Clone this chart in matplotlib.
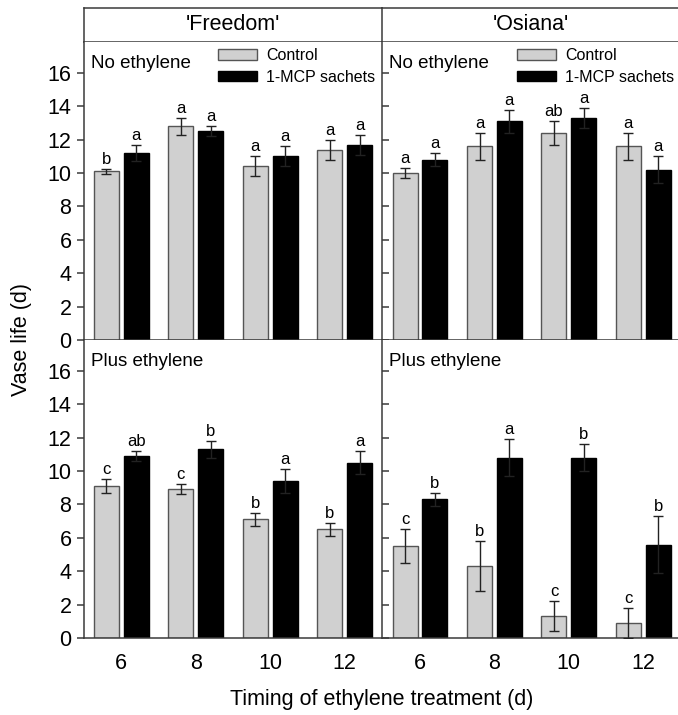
import matplotlib
matplotlib.use("Agg")
import matplotlib.pyplot as plt
from matplotlib.patches import Patch
import numpy as np

plt.rcParams['font.family'] = ['Liberation Sans', 'DejaVu Sans']

timings = ['6', '8', '10', '12']
cultivars = ["'Freedom'", "'Osiana'"]
conditions = ['No ethylene', 'Plus ethylene']
series_names = ['Control', '1-MCP sachets']

# Freedom, no ethylene
fn_ctrl = [10.1, 12.8, 10.4, 11.4]
fn_ctrl_err = [0.15, 0.5, 0.6, 0.6]
fn_mcp = [11.2, 12.5, 11.0, 11.7]
fn_mcp_err = [0.5, 0.3, 0.6, 0.6]
fn_ctrl_let = ['b', 'a', 'a', 'a']
fn_mcp_let = ['a', 'a', 'a', 'a']
# Osiana, no ethylene
on_ctrl = [10.0, 11.6, 12.4, 11.6]
on_ctrl_err = [0.3, 0.8, 0.7, 0.8]
on_mcp = [10.8, 13.1, 13.3, 10.2]
on_mcp_err = [0.4, 0.7, 0.6, 0.8]
on_ctrl_let = ['a', 'a', 'ab', 'a']
on_mcp_let = ['a', 'a', 'a', 'a']
# Freedom, plus ethylene
fp_ctrl = [9.1, 8.9, 7.1, 6.5]
fp_ctrl_err = [0.4, 0.3, 0.4, 0.4]
fp_mcp = [10.9, 11.3, 9.4, 10.5]
fp_mcp_err = [0.3, 0.5, 0.7, 0.7]
fp_ctrl_let = ['c', 'c', 'b', 'b']
fp_mcp_let = ['ab', 'b', 'a', 'a']
# Osiana, plus ethylene
op_ctrl = [5.5, 4.3, 1.3, 0.9]
op_ctrl_err = [1.0, 1.5, 0.9, 0.9]
op_mcp = [8.3, 10.8, 10.8, 5.6]
op_mcp_err = [0.4, 1.1, 0.8, 1.7]
op_ctrl_let = ['c', 'b', 'c', 'c']
op_mcp_let = ['b', 'a', 'b', 'b']

panels = [
    [(fn_ctrl, fn_ctrl_err, fn_ctrl_let, fn_mcp, fn_mcp_err, fn_mcp_let),
     (on_ctrl, on_ctrl_err, on_ctrl_let, on_mcp, on_mcp_err, on_mcp_let)],
    [(fp_ctrl, fp_ctrl_err, fp_ctrl_let, fp_mcp, fp_mcp_err, fp_mcp_let),
     (op_ctrl, op_ctrl_err, op_ctrl_let, op_mcp, op_mcp_err, op_mcp_let)],
]

W, H = 678, 715
fig = plt.figure(figsize=(W / 100, H / 100), dpi=100)

LC = '#3a3a3a'
LW = 1.1
GRAY = '#d0d0d0'

def fx(px):
    return px / W

def fy(py):
    return (H - py) / H

left_x = [84, 382]
pw = 298
rows_y = [(42, 340), (340, 638)]

x = np.arange(len(timings))
bw = 0.335
off = 0.2

# header strips
for j in range(2):
    hax = fig.add_axes([fx(left_x[j]), fy(42), fx(pw if j == 0 else 300), (42 - 8) / H])
    hax.set_xticks([])
    hax.set_yticks([])
    hax.spines['right'].set_visible(False)
    for s in ['left', 'top', 'bottom']:
        hax.spines[s].set_color(LC)
        hax.spines[s].set_linewidth(LW)
    hax.text(0.5 if j == 0 else 0.495, 0.5, cultivars[j], ha='center', va='center',
             fontsize=15.5, transform=hax.transAxes)

for i in range(2):
    top, bot = rows_y[i]
    for j in range(2):
        ax = fig.add_axes([fx(left_x[j]), fy(bot), fx(pw if j == 0 else 300), (bot - top) / H])
        ctrl, ce, cl, mcp, me, ml = panels[i][j]
        ax.bar(x - off, ctrl, bw, color=GRAY, edgecolor='#555555', linewidth=1.0, zorder=2,
               label=series_names[0])
        ax.bar(x + off, mcp, bw, color='black', edgecolor='black', linewidth=1.0, zorder=2,
               label=series_names[1])
        ax.errorbar(x - off, ctrl, yerr=ce, fmt='none', ecolor='#222222', elinewidth=1.0,
                    capsize=3.6, capthick=1.0, zorder=3)
        ax.errorbar(x + off, mcp, yerr=me, fmt='none', ecolor='#222222', elinewidth=1.0,
                    capsize=3.6, capthick=1.0, zorder=3)
        for k in range(len(timings)):
            ax.annotate(cl[k], (x[k] - off, ctrl[k] + ce[k]), xytext=(0, 1.5),
                        textcoords='offset points', ha='center', va='bottom', fontsize=12)
            ax.annotate(ml[k], (x[k] + off, mcp[k] + me[k]), xytext=(0, 1.5),
                        textcoords='offset points', ha='center', va='bottom', fontsize=12)
        ax.set_ylim(0, 17.85)
        if j == 0:
            ax.set_xlim(-0.5, 3.5)
        else:
            ax.set_xlim(-0.51, 3.52)
        ax.set_yticks(np.arange(0, 17, 2))
        ax.spines['right'].set_visible(False)
        ax.spines['top'].set_visible(False)
        for s in ['left', 'bottom']:
            ax.spines[s].set_color(LC)
            ax.spines[s].set_linewidth(LW)
        if j == 0:
            ax.tick_params(axis='y', direction='out', length=5, width=LW, color=LC,
                           labelsize=15.5, pad=4)
        else:
            ax.tick_params(axis='y', direction='in', length=5, width=LW, color=LC,
                           labelleft=False)
        if i == 1:
            ax.set_xticks(x)
            ax.set_xticklabels(timings)
            ax.tick_params(axis='x', length=0, labelsize=15.5, pad=11)
        else:
            ax.set_xticks([])
        ax.text(0.025, 1 - 21 / 298, conditions[i], transform=ax.transAxes,
                ha='left', va='center', fontsize=13.5)
        if i == 0:
            ax.legend(handles=[Patch(facecolor=GRAY, edgecolor='#555555', linewidth=1.0),
                               Patch(facecolor='black', edgecolor='black')],
                      labels=series_names, loc='upper left',
                      bbox_to_anchor=(0.44, 0.99), frameon=False, fontsize=11.5,
                      handlelength=2.4, handleheight=0.65, handletextpad=0.6,
                      labelspacing=0.4, borderpad=0.2, borderaxespad=0)

fig.text(fx(22), fy(340), 'Vase life (d)', rotation=90, ha='center', va='center', fontsize=15.5)
fig.text(fx(382), fy(700), 'Timing of ethylene treatment (d)', ha='center', va='center',
         fontsize=15.5)

fig.savefig('out.png', dpi=100)
